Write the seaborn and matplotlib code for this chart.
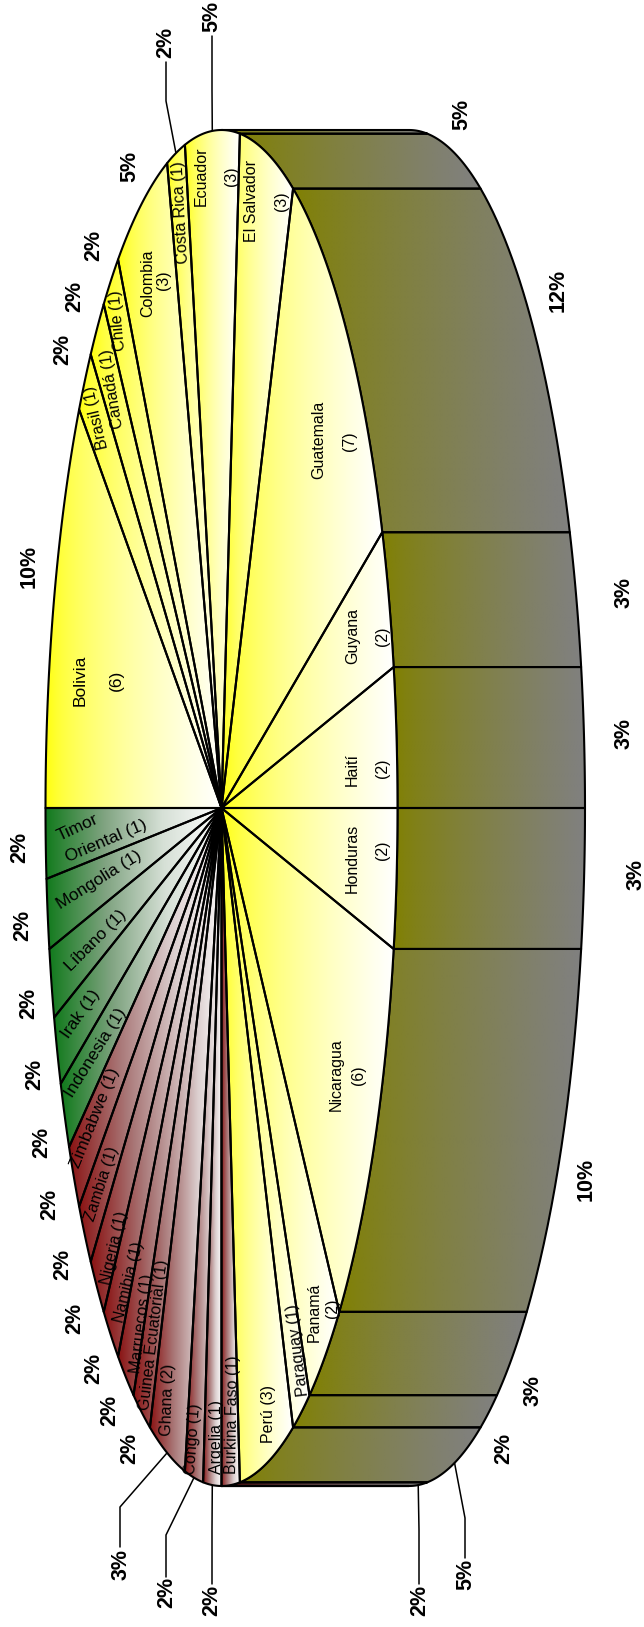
import numpy as np
import pandas as pd
import matplotlib
matplotlib.use("Agg")
import matplotlib.pyplot as plt
from matplotlib.patches import Polygon
import seaborn as sns

# one row per country, going round from the Honduras / Haiti line
countries = ["Haití", "Guyana", "Guatemala", "El Salvador", "Ecuador", "Costa Rica", "Colombia",
             "Chile", "Canadá", "Brasil", "Bolivia", "Timor Oriental", "Mongolia", "Líbano",
             "Irak", "Indonesia", "Zimbabwe", "Zambia", "Nigeria", "Namibia", "Marruecos",
             "Guinea Ecuatorial", "Ghana", "Congo", "Argelia", "Burkina Faso", "Perú",
             "Paraguay", "Panamá", "Nicaragua", "Honduras"]
counts = [2, 2, 7, 3, 3, 1, 3, 1, 1, 1, 6, 1, 1, 1, 1, 1, 1, 1, 1, 1, 1, 1, 2, 1, 1, 1, 3, 1, 2, 6, 2]
groups = ["y"] * 11 + ["g"] * 5 + ["r"] * 10 + ["y"] * 5

# ellipse of the top face, in image pixels
CX, CY, A, B, DEPTH = 221.5, 808, 176, 678, 187.5

# centre of each percent label, same order as countries
pct_pos = [(622, 733), (622, 592), (556, 290), (460, 114), (210, 16), (164, 42), (128, 166),
           (92, 245), (73, 296), (61, 349), (27, 566), (18, 847), (21, 925), (27, 1003),
           (33, 1074), (40, 1142), (48, 1204), (61, 1264), (73, 1318), (92, 1368), (108, 1410),
           (128, 1448), (119, 1565), (165, 1592), (210, 1600), (418, 1600), (464, 1574),
           (502, 1448), (531, 1390), (584, 1179), (634, 874)]

# text, x, y, rotation, size
slice_text = [
    ("Ecuador", 200, 176, 90, 11.5), ("(3)", 230, 176, 90, 11.5),
    ("El Salvador", 250, 201, 90, 11.5), ("(3)", 280, 201, 90, 11.5),
    ("Costa Rica (1)", 179, 212, 93, 11.5),
    ("Colombia", 146, 283, 90, 11.5), ("(3)", 162, 280, 90, 11.5),
    ("Chile (1)", 116, 321, 95, 11.5), ("Canadá (1)", 111, 389, 99, 11.5),
    ("Brasil (1)", 95, 418, 103, 11.5),
    ("Guatemala", 317, 440, 90, 11.5), ("(7)", 348, 441, 90, 11.5),
    ("Guyana", 351, 636, 90, 11.5), ("(2)", 381, 636, 90, 11.5),
    ("Haití", 351, 769, 90, 11.5), ("(2)", 381, 768, 90, 11.5),
    ("Honduras", 351, 858, 90, 11.5), ("(2)", 381, 850, 90, 11.5),
    ("Bolivia", 79, 680, 90, 12.5), ("(6)", 115, 680, 90, 12.5),
    ("Timor", 77, 826, 25, 12.5), ("Oriental (1)", 106, 840, 23, 12.5),
    ("Mongolia (1)", 98, 879, 32, 12.5), ("Líbano (1)", 95, 939, 45, 12.5),
    ("Irak (1)", 80, 1013, 55, 12.5), ("Indonesia (1)", 94, 1052, 58, 12.5),
    ("Zimbabwe (1)", 94, 1117, 68, 12.5), ("Zambia (1)", 100, 1183, 72, 11.5),
    ("Nigeria (1)", 113, 1248, 77, 11.5), ("Namibia (1)", 127, 1282, 76, 11.5),
    ("Marruecos (1)", 140, 1323, 83, 11.5), ("Guinea Ecuatorial (1)", 152, 1335, 83, 11.5),
    ("Ghana (2)", 166, 1400, 88, 11.5), ("Congo (1)", 192, 1439, 86, 11.5),
    ("Argelia (1)", 215, 1437, 90, 11.5), ("Burkina Faso (1)", 231, 1415, 89, 11.5),
    ("Perú (3)", 267, 1414, 90, 11.5),
    ("Paraguay (1)", 296, 1350, 97, 11.5),
    ("Panamá", 313, 1312, 90, 11.5), ("(2)", 331, 1308, 90, 11.5),
    ("Nicaragua", 335, 1075, 90, 11.5), ("(6)", 357, 1075, 90, 11.5),
]

# leader lines: country, elbow, end, on the side wall or not
leaders = [("Costa Rica", (166, 101), (166, 62), False), ("Ecuador", (212, 90), (212, 36), False),
           ("Ghana", (120, 1507), (120, 1547), False), ("Congo", (166, 1535), (166, 1577), False),
           ("Argelia", (212, 1530), (212, 1584), False), ("Burkina Faso", (419, 1530), (419, 1584), True),
           ("Perú", (465, 1518), (465, 1558), True)]

sns.set_theme(style="white")
plt.rcParams['font.family'] = ['Liberation Sans', 'DejaVu Sans']

# colour stops and ramp power for the fades
top_fades = {"y": (["#ffff00", "white"], 0.6),
             "g": (["#117a1c", "#7fa380", "#d6e0d6", "white"], 1.0),
             "r": (["#8a1212", "#a97878", "#dccfcf", "white"], 1.0)}
wall_colors = {"y": "#808000", "g": "#004000", "r": "#400000"}

data = pd.DataFrame({"country": countries, "count": counts, "group": groups})
data["share"] = data["count"] / data["count"].sum()
data["end"] = data["share"].cumsum() * 360
data["start"] = data["end"] - data["share"] * 360
data["pct"] = (data["share"] * 100).round().astype(int)


def arc(t1, t2):
    t = np.radians(np.linspace(t1, t2, max(int(abs(t2 - t1) * 2), 2) + 1))
    return CX + A * np.cos(t), CY - B * np.sin(t)


def gradient(ax, xs, ys, cmap, gamma, zorder):
    # left-to-right fade inside the shape's own box
    ramp = np.linspace(0, 1, 256)[None, :] ** gamma
    im = ax.imshow(ramp, cmap=cmap, vmin=0, vmax=1, aspect="auto", zorder=zorder,
                   extent=(min(xs), max(xs), max(ys), min(ys)), interpolation="bilinear")
    clip = Polygon(np.column_stack([xs, ys]), closed=True, transform=ax.transData)
    im.set_clip_path(clip)


def nudge(px, py, rot, d):
    # move along the text's own "down" direction
    r = np.radians(rot)
    return px + d * np.sin(r), py + d * np.cos(r)


fig = plt.figure(figsize=(6.44, 16.27), dpi=100)
ax = fig.add_axes([0, 0, 1, 1])

walls, tops = [], []
for row in data.itertuples():
    # the wall shows only for the part of the slice on the right half
    for shift in (0, -360):
        t1, t2 = max(row.start + shift, -90), min(row.end + shift, 90)
        if t2 > t1:
            x, y = arc(t1, t2)
            xs = np.r_[x, x[::-1] + DEPTH, x[0]]
            ys = np.r_[y, y[::-1], y[0]]
            cmap = sns.blend_palette([wall_colors[row.group], "#808080"], as_cmap=True)
            gradient(ax, xs, ys, cmap, 0.75, 1)
            walls.append(pd.DataFrame({"x": xs, "y": ys, "piece": f"{row.country}{shift}"}))

    x, y = arc(row.start, row.end)
    xs = np.r_[CX, x, CX]
    ys = np.r_[CY, y, CY]
    stops, power = top_fades[row.group]
    gradient(ax, xs, ys, sns.blend_palette(stops, as_cmap=True), power, 3)
    tops.append(pd.DataFrame({"x": xs, "y": ys, "piece": row.country}))

sns.lineplot(data=pd.concat(walls), x="x", y="y", units="piece", estimator=None, sort=False,
             color="black", lw=1.5, legend=False, ax=ax, zorder=2)
sns.lineplot(data=pd.concat(tops), x="x", y="y", units="piece", estimator=None, sort=False,
             color="black", lw=1.5, legend=False, ax=ax, zorder=4)

for name, elbow, end, on_wall in leaders:
    row = data[data["country"] == name].iloc[0]
    mid = np.radians((row["start"] + row["end"]) / 2)
    x0 = CX + A * np.cos(mid) + (DEPTH if on_wall else 0)
    y0 = CY - B * np.sin(mid)
    ax.plot([x0, elbow[0], end[0]], [y0, elbow[1], end[1]], color="black", lw=1.1, zorder=2)

for row, (px, py) in zip(data.itertuples(), pct_pos):
    tx, ty = nudge(px, py, 90, 2)
    ax.text(tx, ty, f"{row.pct}%", rotation=90, ha="center", va="center",
            fontsize=15.5, fontweight="bold", color="black", zorder=5)

for text, px, py, rot, size in slice_text:
    tx, ty = nudge(px, py, rot, 1.5)
    ax.text(tx, ty, text, rotation=rot, rotation_mode="anchor", ha="center", va="center",
            fontsize=size, color="black", zorder=5)

ax.set_xlim(0, 644)
ax.set_ylim(1627, 0)
ax.axis("off")
fig.savefig("out.png", dpi=100, facecolor="white")
